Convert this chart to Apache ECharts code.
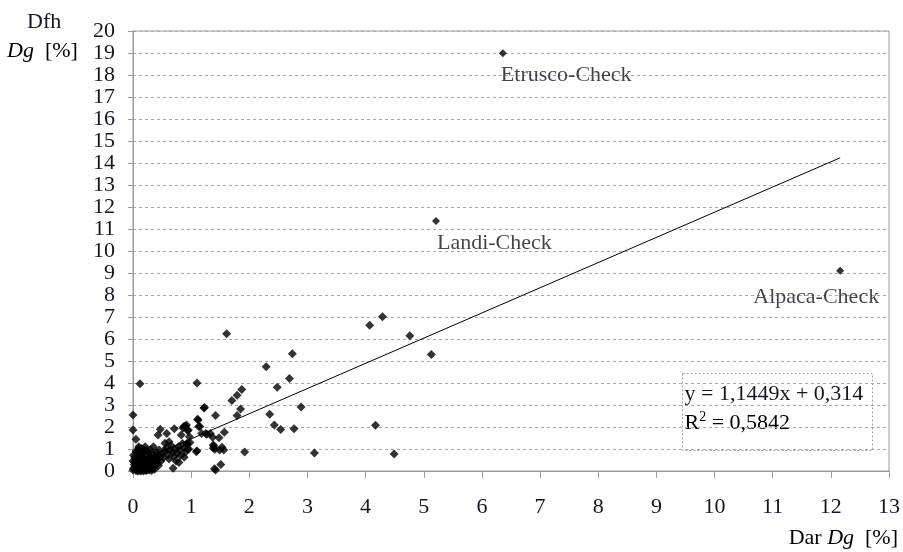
<!DOCTYPE html>
<html>
<head>
<meta charset="utf-8">
<script src="https://cdn.jsdelivr.net/npm/echarts@6/dist/echarts.min.js"></script>
<style>
  html, body { margin: 0; padding: 0; background: #ffffff; }
  #chart { width: 903px; height: 552px; }
</style>
</head>
<body>
<div id="chart"></div>
<script>
// Axis ranges / ticks
const xTickMin = 0, xTickMax = 13, xTickStep = 1;
const yTickMin = 0, yTickMax = 20, yTickStep = 1;

// Measured Dar Dg [%] (x) and Dfh Dg [%] (y) per sample
const darDg = [
  0.00, 0.01, 0.02, 0.00, 0.03, 0.01, 0.05, 0.06, 0.07, 0.05, 0.08, 0.09, 0.10, 0.12, 0.11, 0.13,
  0.14, 0.15, 0.16, 0.18, 0.17, 0.19, 0.20, 0.21, 0.22, 0.23, 0.24, 0.25, 0.26, 0.27, 0.28, 0.30,
  0.31, 0.32, 0.33, 0.35, 0.36, 0.38, 0.40, 0.42, 0.44, 0.45, 0.47, 0.50, 0.52, 0.55, 0.57, 0.60,
  0.62, 0.64, 0.66, 0.68, 0.70, 0.72, 0.74, 0.76, 0.78, 0.80, 0.82, 0.85, 0.88, 0.90, 0.93, 0.96,
  0.98, 0.10, 0.15, 0.05, 0.20, 0.30, 0.35, 0.40, 0.12, 0.18, 0.22, 0.08, 0.04, 0.27, 0.34, 0.11,
  0.00, 0.00, 0.05, 0.10, 0.21, 0.12, 0.43, 0.47, 0.58, 0.71, 0.875, 0.92, 0.83, 0.95, 0.97, 0.62,
  0.55, 0.69, 0.79, 0.88, 1.09, 1.12, 1.15, 1.23, 1.42, 1.18, 1.25, 1.33, 1.39, 1.41, 1.49, 1.42,
  1.61, 2.74, 2.29, 2.69, 2.48, 1.10, 1.87, 1.79, 1.70, 2.89, 1.85, 1.22, 2.35, 1.79, 1.11, 2.43,
  2.54, 2.77, 1.57, 1.48, 1.37, 1.38, 1.38, 1.53, 1.56, 1.10, 0.94, 1.92, 3.12, 1.51, 1.40, 0.90,
  0.86, 0.94, 1.13, 1.27, 0.93,
  0.29, 0.33, 0.37, 0.41, 0.26, 0.31, 0.36, 0.44, 0.39, 0.48, 0.16, 0.07, 0.24, 0.19, 0.14, 0.03,
  4.07, 4.29, 4.76, 5.13, 4.17, 4.49
];
const dfhDg = [
  0.05, 0.12, 0.30, 0.45, 0.60, 0.72, 0.02, 0.18, 0.35, 0.50, 0.68, 0.05, 0.25, 0.42, 0.58, 0.80,
  0.10, 0.02, 0.30, 0.50, 0.65, 0.95, 0.08, 0.20, 0.40, 0.72, 0.03, 0.15, 0.55, 0.85, 0.05, 0.30,
  0.62, 0.02, 0.45, 0.75, 0.20, 0.60, 0.85, 0.50, 0.70, 0.95, 0.65, 0.80, 0.60, 0.90, 1.05, 0.75,
  0.55, 0.95, 1.15, 0.85, 0.65, 1.00, 0.45, 0.80, 1.10, 0.95, 0.70, 1.25, 1.05, 0.85, 1.20, 1.00,
  1.30, 1.05, 1.02, 0.90, 0.85, 0.95, 1.10, 0.30, 0.00, 0.00, 0.02, 0.00, 0.22, 0.38, 0.12, 0.66,
  2.55, 1.86, 1.44, 1.10, 1.10, 0.35, 1.64, 1.90, 1.71, 1.92, 2.02, 2.09, 1.64, 1.86, 1.56, 1.33,
  1.26, 0.12, 0.39, 0.62, 0.88, 2.32, 2.02, 2.89, 2.52, 1.71, 1.71, 1.71, 1.14, 0.99, 0.95, 0.05,
  6.24, 5.33, 4.74, 4.20, 3.81, 4.00, 3.71, 3.44, 3.20, 2.91, 2.82, 2.86, 2.58, 2.52, 2.35, 2.09,
  1.89, 1.92, 1.76, 1.51, 1.53, 1.18, 1.03, 1.08, 0.95, 0.92, 0.99, 0.86, 0.82, 0.30, 0.10, 2.05,
  1.95, 1.83, 2.02, 1.67, 1.26,
  0.10, 0.18, 0.08, 0.40, 0.48, 0.52, 0.35, 0.25, 0.68, 0.45, 0.85, 0.88, 0.92, 0.30, 0.62, 0.40,
  6.62, 7.01, 6.15, 5.30, 2.08, 0.77
];
const cornerDar = [0.12];
const cornerDfh = [3.97];

// Labelled outliers
const checkNames = ['Etrusco-Check', 'Landi-Check', 'Alpaca-Check'];
const checkDar = [6.36, 5.21, 12.16];
const checkDfh = [18.99, 11.36, 9.10];

// Linear trend line (least squares) as reported in the annotation
const trendSlope = 1.1449;
const trendIntercept = 0.314;
const trendR2 = 0.5842;

const serif = "'Liberation Serif', 'Times New Roman', serif";
const ink = '#141424';
const fs = 22;

const scatterPoints = darDg.map((x, i) => [x, dfhDg[i]])
  .concat(cornerDar.map((x, i) => [x, cornerDfh[i]]));

const allX = darDg.concat(cornerDar, checkDar);
const trendX0 = Math.min.apply(null, allX);
const trendX1 = Math.max.apply(null, allX);
const trendPoints = [
  [trendX0, trendSlope * trendX0 + trendIntercept],
  [trendX1, trendSlope * trendX1 + trendIntercept]
];

const labelPlacement = [
  { align: 'left', offset: [-2, 22] },
  { align: 'left', offset: [1, 22] },
  { align: 'right', offset: [39, 26] }
];
const checkPoints = checkNames.map((n, i) => ({
  name: n,
  value: [checkDar[i], checkDfh[i]],
  label: {
    show: true,
    formatter: n,
    position: 'inside',
    align: labelPlacement[i].align,
    verticalAlign: 'middle',
    offset: labelPlacement[i].offset,
    fontFamily: serif,
    fontSize: fs,
    color: ink
  }
}));

const fmt = v => String(v).replace('.', ',');
const eqLine = 'y = ' + fmt(trendSlope) + 'x + ' + fmt(trendIntercept);
const r2Line = '{r|R}{sup|2}{r| = ' + fmt(trendR2) + '}';

const chart = echarts.init(document.getElementById('chart'), null, { renderer: 'canvas' });
chart.setOption({
  backgroundColor: '#ffffff',
  animation: false,
  textStyle: { fontFamily: serif },
  grid: {
    left: 133, right: 12, top: 31, bottom: 81,
    show: true, borderColor: '#9a9a9a', borderWidth: 1, backgroundColor: 'transparent'
  },
  xAxis: {
    type: 'value', min: xTickMin, max: xTickMax, interval: xTickStep,
    axisLine: { show: true, lineStyle: { color: '#9a9a9a', width: 1 } },
    axisTick: { show: true, length: 7, lineStyle: { color: '#9a9a9a' } },
    axisLabel: { margin: 25, fontFamily: serif, fontSize: fs, color: ink },
    splitLine: { show: false }
  },
  yAxis: {
    type: 'value', min: yTickMin, max: yTickMax, interval: yTickStep,
    axisLine: { show: true, lineStyle: { color: '#9a9a9a', width: 1 } },
    axisTick: { show: true, length: 5, lineStyle: { color: '#9a9a9a' } },
    axisLabel: { margin: 18, fontFamily: serif, fontSize: fs, color: ink },
    splitLine: { show: true, lineStyle: { color: '#a8a8a8', type: [3, 3], width: 1 } }
  },
  series: [
    {
      type: 'line',
      data: trendPoints,
      symbol: 'none',
      lineStyle: { color: '#000000', width: 1 },
      z: 2,
      silent: true
    },
    {
      type: 'scatter',
      data: scatterPoints,
      symbol: 'diamond',
      symbolSize: 9,
      itemStyle: { color: '#000000' },
      z: 3
    },
    {
      type: 'scatter',
      data: checkPoints,
      symbol: 'diamond',
      symbolSize: 8,
      itemStyle: { color: '#000000' },
      z: 3
    }
  ],
  graphic: [
    {
      type: 'text', left: 27, top: 11,
      style: { text: 'Dfh', font: fs + 'px ' + serif, fill: ink }
    },
    {
      type: 'text', left: 7, top: 40,
      style: {
        text: '{i|Dg}{n|  [%]}',
        rich: {
          i: { fontFamily: serif, fontSize: fs, fontStyle: 'italic', color: ink },
          n: { fontFamily: serif, fontSize: fs, color: ink }
        }
      }
    },
    {
      type: 'text', right: 5, top: 527,
      style: {
        text: '{n|Dar }{i|Dg}{n|  [%]}',
        rich: {
          i: { fontFamily: serif, fontSize: fs, fontStyle: 'italic', color: ink },
          n: { fontFamily: serif, fontSize: fs, color: ink }
        }
      }
    },
    {
      type: 'group', left: 682, top: 373, z: 10,
      children: [
        {
          type: 'rect',
          shape: { x: 0, y: 0, width: 190, height: 77 },
          style: { fill: '#ffffff', stroke: '#a0a0a0', lineWidth: 1, lineDash: [2, 2] }
        },
        {
          type: 'text', x: 2, y: 10,
          style: { text: eqLine, font: fs + 'px ' + serif, fill: ink }
        },
        {
          type: 'text', x: 2, y: 37,
          style: {
            text: r2Line,
            rich: {
              r: { fontFamily: serif, fontSize: fs, color: ink, lineHeight: 26 },
              sup: { fontFamily: serif, fontSize: 14, color: ink, verticalAlign: 'top', lineHeight: 26 }
            }
          }
        }
      ]
    }
  ]
});
</script>
</body>
</html>
